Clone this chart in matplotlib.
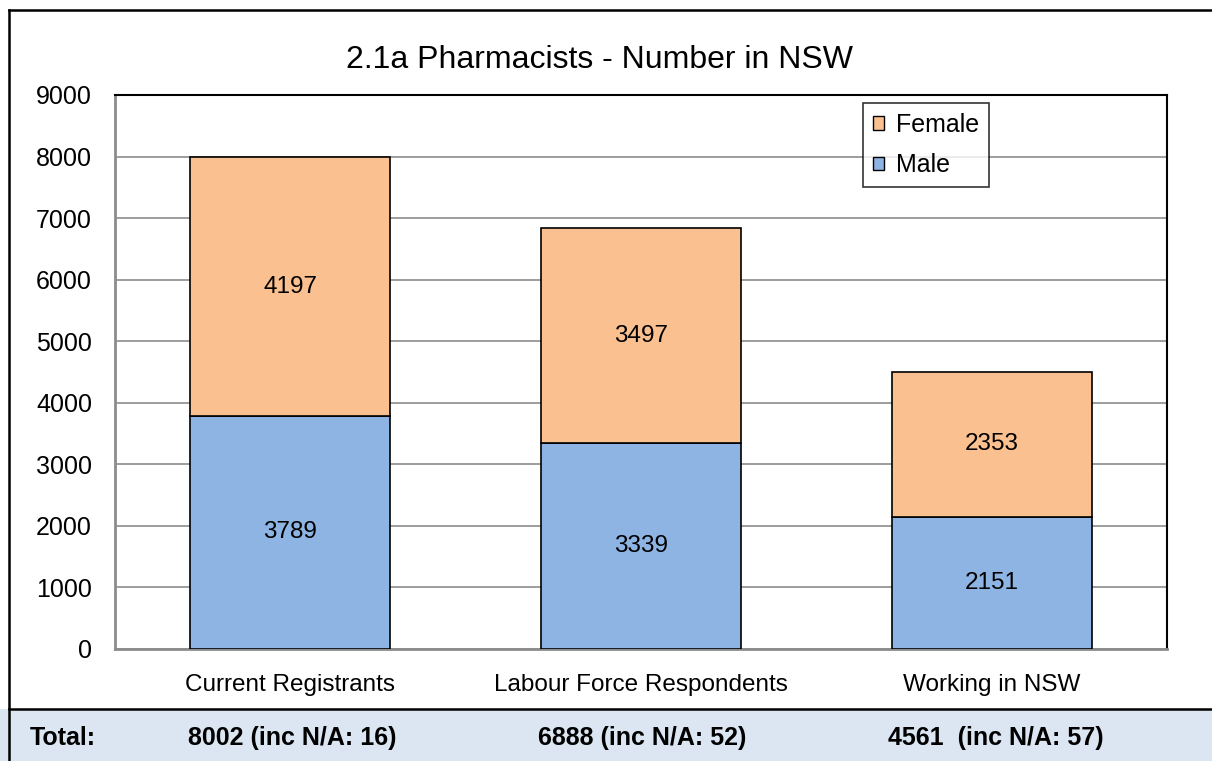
import numpy as np
import matplotlib
matplotlib.use("Agg")
import matplotlib.pyplot as plt
from matplotlib.patches import Rectangle, Patch
from matplotlib.lines import Line2D

categories = ["Current Registrants", "Labour Force Respondents", "Working in NSW"]
male = [3789, 3339, 2151]
female = [4197, 3497, 2353]
totals = [8002, 6888, 4561]
not_avail = [16, 52, 57]

plt.rcParams['font.family'] = ['Liberation Sans', 'DejaVu Sans']

W, H = 1212, 761
fig = plt.figure(figsize=(W / 100, H / 100), dpi=100)

# px -> figure coords
def fx(px):
    return px / W

def fy(py):
    return 1 - py / H

# bottom band with totals
band_top = 709
fig.patches.append(Rectangle((0, 0), 1, fy(band_top), transform=fig.transFigure,
                             facecolor='#dce6f2', edgecolor='none', zorder=0))
fig.lines.append(Line2D([fx(9), 1], [fy(band_top), fy(band_top)], transform=fig.transFigure,
                        color='black', lw=1.8))
fig.lines.append(Line2D([fx(9), 1], [fy(10), fy(10)], transform=fig.transFigure,
                        color='black', lw=1.8))
fig.lines.append(Line2D([fx(9), fx(9)], [fy(10), 0], transform=fig.transFigure,
                        color='black', lw=1.8))

ax = fig.add_axes([fx(115), fy(649), fx(1167) - fx(115), fy(95) - fy(649)])

x = np.arange(len(categories))
bw = 0.57
c_male = '#8eb4e3'
c_female = '#fac090'
ax.bar(x, male, bw, color=c_male, edgecolor='black', linewidth=1.2, zorder=3)
ax.bar(x, female, bw, bottom=male, color=c_female, edgecolor='black', linewidth=1.2, zorder=3)

for i in range(len(x)):
    ax.text(x[i], male[i] / 2, str(male[i]), ha='center', va='center', fontsize=17.5, zorder=4)
    ax.text(x[i], male[i] + female[i] / 2, str(female[i]), ha='center', va='center',
            fontsize=17.5, zorder=4)

ax.set_xlim(-0.5, 2.5)
ax.set_ylim(0, 9000)
ax.set_yticks(np.arange(0, 9001, 1000))
ax.set_xticks(x)
ax.set_xticklabels(categories, fontsize=17.5)
ax.tick_params(axis='y', labelsize=18, length=0, pad=16.5)
ax.tick_params(axis='x', length=0, pad=18)
ax.grid(axis='y', color='#8c8c8c', linewidth=1.2, zorder=0)
ax.spines['left'].set_color('#8c8c8c')
ax.spines['bottom'].set_color('#8c8c8c')
ax.spines['left'].set_linewidth(2)
ax.spines['bottom'].set_linewidth(2)
ax.spines['top'].set_linewidth(1.5)
ax.spines['right'].set_linewidth(1.5)

fig.text(fx(600), fy(60), "2.1a Pharmacists - Number in NSW", ha='center', va='center', fontsize=23)

handles = [Patch(facecolor=c_female, edgecolor='black', label='Female'),
           Patch(facecolor=c_male, edgecolor='black', label='Male')]
leg = ax.legend(handles=handles, loc='upper left', bbox_to_anchor=((863 - 115) / 1052, (649 - 103) / 554),
                fontsize=18, frameon=True, fancybox=False, handlelength=0.45, handleheight=0.45,
                handletextpad=0.45, borderpad=0.4, labelspacing=0.65, borderaxespad=0)
leg.get_frame().set_edgecolor('black')
leg.get_frame().set_linewidth(1.2)

fig.text(fx(30), fy(738), "Total:", ha='left', va='center', fontsize=18, fontweight='bold')
starts = [188, 538, 888]
for i in range(len(totals)):
    gap = "  " if i == 2 else " "
    fig.text(fx(starts[i]), fy(738), "%d%s(inc N/A: %d)" % (totals[i], gap, not_avail[i]),
             ha='left', va='center', fontsize=18, fontweight='bold')

fig.savefig("out.png", dpi=100)
